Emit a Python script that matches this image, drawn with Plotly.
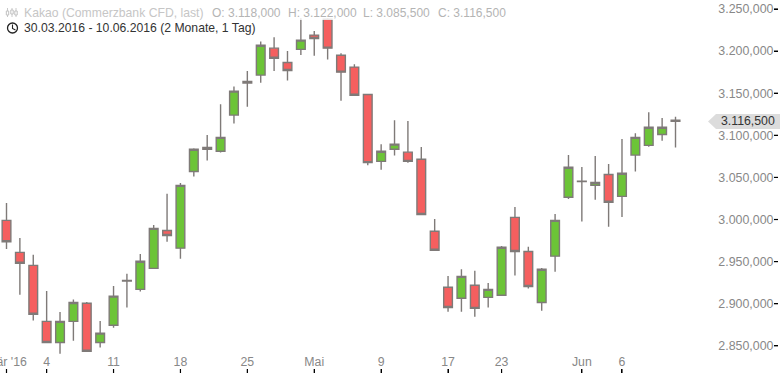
import plotly.graph_objects as go

dates = ["2016-03-30","2016-03-31","2016-04-01","2016-04-04","2016-04-05","2016-04-06","2016-04-07","2016-04-08",
"2016-04-11","2016-04-12","2016-04-13","2016-04-14","2016-04-15","2016-04-18","2016-04-19","2016-04-20","2016-04-21","2016-04-22",
"2016-04-25","2016-04-26","2016-04-27","2016-04-28","2016-04-29","2016-05-02","2016-05-03","2016-05-04","2016-05-05","2016-05-06",
"2016-05-09","2016-05-10","2016-05-11","2016-05-12","2016-05-13","2016-05-17","2016-05-18","2016-05-19","2016-05-20",
"2016-05-23","2016-05-24","2016-05-25","2016-05-26","2016-05-27","2016-05-31","2016-06-01","2016-06-02","2016-06-03",
"2016-06-06","2016-06-07","2016-06-08","2016-06-09","2016-06-10"]

opens = [2999000,2961000,2945500,2879000,2854000,2879000,2900500,2854000,2874500,2927500,2917000,2942000,2987000,2966000,3057000,3085500,3081000,3124000,
3162000,3171500,3203500,3186500,3202000,3219000,3238000,3195000,3181000,3148500,3069000,3083500,3080000,3071500,2986000,
2919500,2906500,2922000,2907500,2910000,3002500,2962000,2901500,2956500,3026500,3045500,3040500,3053500,3027500,3076500,3088000,3101000,3118000]
highs = [3019500,2978000,2958000,2915000,2890000,2905000,2902000,2879500,2921000,2935500,2959000,2993500,3030500,3043500,3084500,3100500,3137000,3158000,
3176500,3211500,3216500,3200000,3239000,3224000,3239000,3197500,3184500,3148500,3089500,3118000,3117000,3086000,3000500,
2933000,2941000,2939000,2924500,2968500,3015000,2967500,2942500,3006500,3076500,3062500,3075500,3066000,3095500,3102500,3127500,3120500,3122000]
lows = [2965000,2910500,2880000,2854000,2840500,2856000,2843500,2848000,2871500,2895500,2914500,2942000,2973500,2953500,3051000,3070000,3079500,3114000,
3134000,3162500,3176500,3165000,3195500,3194500,3190000,3141000,3147500,3064500,3059000,3076000,3067500,3006000,2963500,
2890500,2890500,2884500,2895500,2910000,2933500,2918000,2891500,2938000,3024500,2997500,3023500,2991500,3003000,3057000,3086500,3093500,3085500]
closes = [2973500,2948000,2887500,2854000,2879000,2901500,2843500,2865000,2909000,2927000,2950500,2989500,2981000,3040500,3083500,3083500,3097500,3152500,
3164000,3207000,3191500,3177000,3213000,3215000,3203500,3175000,3147500,3067500,3081000,3089500,3069000,3006000,2963500,
2895500,2932500,2894500,2917000,2967000,2962000,2920500,2941000,2999000,3062000,3045000,3044000,3020500,3055000,3097500,3109500,3109500,3116500]

x_tick_dates = ["2016-03-30","2016-04-04","2016-04-11","2016-04-18","2016-04-25","2016-05-02","2016-05-09","2016-05-17","2016-05-23","2016-06-01","2016-06-06"]
x_tick_labels = ["Mär '16","4","11","18","25","Mai","9","17","23","Jun","6"]
y_tick_values = [3250000,3200000,3150000,3100000,3050000,3000000,2950000,2900000,2850000]
y_tick_labels = ["3.250,000","3.200,000","3.150,000","3.100,000","3.050,000","3.000,000","2.950,000","2.900,000","2.850,000"]

title_text = "Kakao (Commerzbank CFD, last)"
ohlc_text = ["O: 3.118,000", "H: 3.122,000", "L: 3.085,500", "C: 3.116,500"]
range_text = "30.03.2016 - 10.06.2016 (2 Monate, 1 Tag)"
last_label = "3.116,500"

W, H = 780, 373
RIGHT = 2
FONT = "Liberation Sans"


def px(x):
    return x / (W - RIGHT)


def py(y):
    return 1 - y / H


GREY = "#7f7a78"
fig = go.Figure(go.Candlestick(
    x=dates, open=opens, high=highs, low=lows, close=closes,
    increasing=dict(fillcolor="#6cc437", line=dict(color=GREY, width=1.4)),
    decreasing=dict(fillcolor="#f55f5f", line=dict(color=GREY, width=1.4)),
    hoverinfo="skip", showlegend=False,
))

shapes = [
    # translucent header strip above the candles
    dict(type="rect", xref="paper", yref="paper", x0=0, x1=px(510), y0=py(0), y1=py(20),
         fillcolor="rgba(255,255,255,0.8)", line=dict(width=0), layer="above"),
    # last-price tag, anchored to the last close
    dict(type="path", xref="paper", yref="y", xsizemode="pixel", ysizemode="pixel",
         xanchor=1, yanchor=closes[-1],
         path="M -70 0 L -62 7.5 L 2 7.5 L 2 -7.5 L -62 -7.5 Z",
         fillcolor="#dcdcdc", line=dict(width=0), layer="above"),
    # clock icon
    dict(type="circle", xref="paper", yref="paper", x0=px(7.5), x1=px(17.5), y0=py(33), y1=py(23),
         line=dict(color="#222222", width=1.3), layer="above"),
    dict(type="path", xref="paper", yref="paper",
         path=f"M {px(12.5)} {py(24.5)} L {px(12.5)} {py(28.5)} L {px(15.5)} {py(30)}",
         line=dict(color="#222222", width=1.1), layer="above"),
]
# candle icon in the header
for cx, top, bottom, wick_top, wick_bottom in [(7.5, 11, 15, 8, 17), (12, 10, 14, 8, 17), (16, 11, 15, 8, 17)]:
    shapes.append(dict(type="line", xref="paper", yref="paper", x0=px(cx), x1=px(cx), y0=py(wick_top), y1=py(wick_bottom),
                       line=dict(color="#c8c8c8", width=1), layer="above"))
    shapes.append(dict(type="rect", xref="paper", yref="paper", x0=px(cx - 1.2), x1=px(cx + 1.2), y0=py(top), y1=py(bottom),
                       fillcolor="#ffffff", line=dict(color="#c0c0c0", width=1), layer="above"))
# black tick marks on both axes, placed through the axis scales
for value in y_tick_values:
    shapes.append(dict(type="line", xref="paper", yref="y", xsizemode="pixel", xanchor=1, x0=-4, x1=0,
                       y0=value, y1=value, line=dict(color="#000000", width=1.2), layer="above"))
for d in x_tick_dates:
    shapes.append(dict(type="line", xref="x", yref="paper", ysizemode="pixel", yanchor=0, y0=0, y1=4,
                       x0=d, x1=d, line=dict(color="#000000", width=1.2), layer="above"))

annotations = [
    dict(text=title_text, xref="paper", yref="paper", x=px(23), y=py(12.5), xanchor="left", yanchor="middle",
         showarrow=False, xshift=-1, font=dict(family=FONT, size=12.2, color="#c6c6c6")),
    dict(text=range_text, xref="paper", yref="paper", x=px(23), y=py(28.5), xanchor="left", yanchor="middle",
         showarrow=False, xshift=-1, font=dict(family=FONT, size=12.2, color="#333333")),
    dict(text=last_label, xref="paper", yref="y", x=px(776), y=closes[-1], xanchor="right", yanchor="middle",
         showarrow=False, borderpad=0, font=dict(family=FONT, size=12.3, color="#333333")),
]
for txt, xpos in zip(ohlc_text, [211, 287, 362, 437]):
    annotations.append(dict(text=txt, xref="paper", yref="paper", x=px(xpos), y=py(12.5), xanchor="left", yanchor="middle",
                            showarrow=False, xshift=-1, font=dict(family=FONT, size=12, color="#b4b4b4")))

fig.update_layout(
    width=W, height=H,
    margin=dict(l=0, r=RIGHT, t=0, b=0),
    paper_bgcolor="white", plot_bgcolor="white",
    boxgap=0.07,
    font=dict(family=FONT, size=12, color="#888888"),
    showlegend=False,
    shapes=shapes,
    annotations=annotations,
    xaxis=dict(
        type="category", range=[-0.486, 57.66], rangeslider=dict(visible=False), automargin=False,
        tickmode="array", tickvals=x_tick_dates, ticktext=x_tick_labels,
        ticks="inside", ticklen=4, tickwidth=1, tickcolor="#000000",
        ticklabelposition="inside", ticklabeloverflow="allow",
        tickfont=dict(family=FONT, size=12.3, color="#888888"),
        showgrid=False, zeroline=False, showline=False, tickangle=0,
    ),
    yaxis=dict(
        side="right", range=[2817700, 3260700], automargin=False,
        tickmode="array", tickvals=y_tick_values, ticktext=y_tick_labels,
        ticks="inside", ticklen=4, tickwidth=1, tickcolor="#000000",
        ticklabelposition="inside", ticklabeloverflow="allow",
        tickfont=dict(family=FONT, size=12.4, color="#888888"),
        showgrid=False, zeroline=False, showline=False,
    ),
)

fig.write_html("out.html", config=dict(displayModeBar=False),
               post_script="document.body.style.margin='0';document.body.style.overflow='hidden';")
